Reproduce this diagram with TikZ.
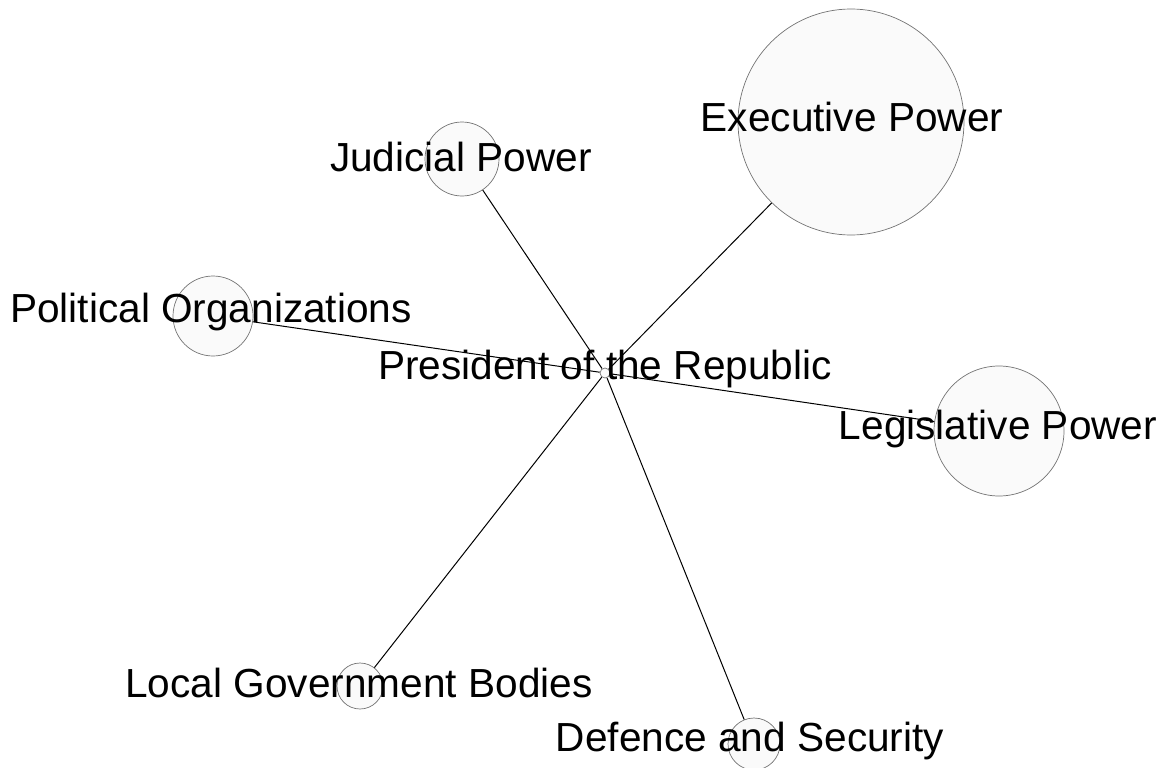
\documentclass[tikz,border=0pt]{standalone}
\usepackage{fontspec}
\setmainfont{Liberation Sans}
\begin{document}
\begin{tikzpicture}[x=1pt,y=-1pt,
  circ/.style={circle, draw=black!55, fill=black!2, line width=0.7pt, inner sep=0pt, minimum size=#1},
  lbl/.style={font=\fontsize{40.6}{48}\selectfont, inner sep=0pt, text=black},
  link/.style={draw=black, line width=1pt}]
\useasboundingbox (0,0) rectangle (1165,768);
% circles
\node[circ=10pt]  (pres)  at (605,373) {};
\node[circ=226pt] (exec)  at (851,122) {};
\node[circ=74pt]  (jud)   at (462,159) {};
\node[circ=80pt]  (pol)   at (213,316) {};
\node[circ=130pt] (leg)   at (999,431) {};
\node[circ=52pt]  (def)   at (754,744) {};
\node[circ=46pt]  (loc)   at (360,686) {};
% connectors
\draw[link] (pres) -- (exec);
\draw[link] (pres) -- (jud);
\draw[link] (pres) -- (pol);
\draw[link] (pres) -- (leg);
\draw[link] (pres) -- (def);
\draw[link] (pres) -- (loc);
% labels
\node[lbl] (presL) at (605,369) {President of the Republic};
\node[lbl] (execL) at (852,117) {Executive Power};
\node[lbl] (judL)  at (461,157) {Judicial Power};
\node[lbl] (polL)  at (211,312) {Political Organizations};
\node[lbl] (legL)  at (998,429) {Legislative Power};
\node[lbl] (locL)  at (359,683) {Local Government Bodies};
\node[lbl] (defL)  at (750,741) {Defence and Security};
\end{tikzpicture}
\end{document}
